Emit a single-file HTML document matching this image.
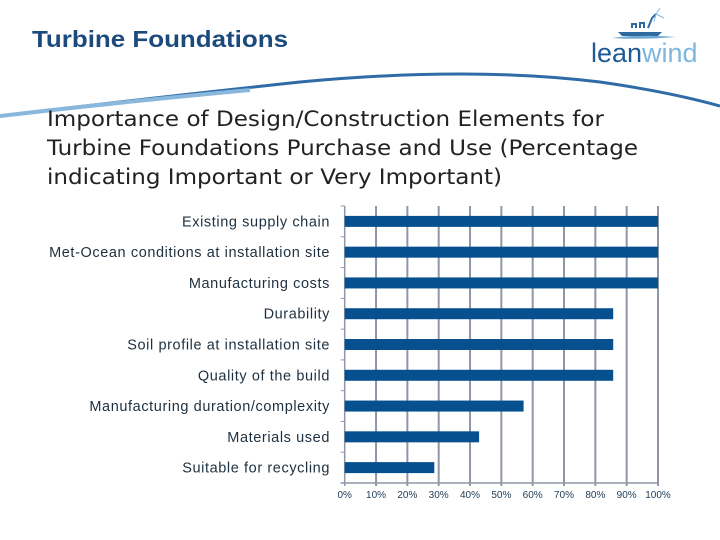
<!DOCTYPE html>
<html><head><meta charset="utf-8"><style>
html,body{margin:0;padding:0;background:#fff;width:720px;height:540px;overflow:hidden}
svg{display:block}
</style></head><body>
<svg width="720" height="540" xmlns="http://www.w3.org/2000/svg">
<text x="32" y="47" font-family="Liberation Sans, sans-serif" font-weight="bold" font-size="23" textLength="256" lengthAdjust="spacingAndGlyphs" fill="#1c4a7c">Turbine Foundations</text>
<g>
  <path d="M618 32 L662 32 L658 36 L622 36 Z" fill="#2e6aa0"/>
  <path d="M612 38 Q640 34 676 37 Q640 40 612 38Z" fill="#6fa9d4"/>
  <path d="M632 28 L632 24 L636 24 L636 28 M640 28 L640 23 L644 23 L644 28 M648 28 L652 18 L656 14" stroke="#2e6aa0" stroke-width="2" fill="none"/>
  <path d="M656 14 L660 8 M656 14 L664 18 M656 14 L654 22" stroke="#8ab8dc" stroke-width="1" fill="none"/>
  <text x="591" y="62" font-family="Liberation Sans, sans-serif" font-size="27" fill="#1e5a96">lean<tspan fill="#7fb6df">wind</tspan></text>
</g>
<path d="M0 116 Q150 98 300 82 Q470 66 600 82 Q670 92 720 106" stroke="#2f6ba6" stroke-width="3" fill="none"/>
<path d="M0 116 Q120 102 250 90" stroke="#8ab8dc" stroke-width="4" fill="none"/>
<g font-family="DejaVu Sans, sans-serif" font-size="21" fill="#222">
<text x="47" y="126" textLength="557" lengthAdjust="spacingAndGlyphs">Importance of Design/Construction Elements for</text>
<text x="47" y="155" textLength="591" lengthAdjust="spacingAndGlyphs">Turbine Foundations Purchase and Use (Percentage</text>
<text x="47" y="184" textLength="455" lengthAdjust="spacingAndGlyphs">indicating Important or Very Important)</text>
</g>
<g id="chart"></g>
</svg>
<script>
const categories=["Existing supply chain","Met-Ocean conditions at installation site","Manufacturing costs","Durability","Soil profile at installation site","Quality of the build","Manufacturing duration/complexity","Materials used","Suitable for recycling"];
const values=[100,100,100,85.7,85.7,85.7,57.1,42.9,28.6];
const tickLabels=["0%","10%","20%","30%","40%","50%","60%","70%","80%","90%","100%"];
const tickValues=[0,10,20,30,40,50,60,70,80,90,100];
const NS="http://www.w3.org/2000/svg";
const g=document.getElementById('chart');
const x0=344.7,x1=658,yTop=206,yBot=483;
const band=(yBot-yTop)/categories.length;
const xs=v=>x0+(x1-x0)*v/100;
const yc=i=>yTop+band*(i+0.5);
function mk(t,a){const e=document.createElementNS(NS,t);for(const k in a)e.setAttribute(k,a[k]);g.appendChild(e);return e;}
tickValues.forEach((v,i)=>{
  const l=mk('line',{x1:xs(v),x2:xs(v),y1:yTop,y2:yBot+3,stroke:'#8f97a6','stroke-width':i===0?1.5:2});
  
  
  const t=mk('text',{x:xs(v),y:yBot+15,'text-anchor':'middle','font-family':'Liberation Sans, sans-serif','font-size':'10',fill:'#1e3a55'});
  t.textContent=tickLabels[i];
  
  
});
for(let i=0;i<=categories.length;i++){
  const t=mk('line',{x1:x0-4,x2:x0,y1:yTop+band*i,y2:yTop+band*i,stroke:'#8f97a6','stroke-width':1});
  
  
}
const ax=mk('line',{x1:x0-4,x2:x1,y1:yBot,y2:yBot,stroke:'#8f97a6','stroke-width':1.5});


categories.forEach((c,i)=>{
  const r=mk('rect',{x:x0,y:yc(i)-5.5,width:xs(values[i])-x0,height:11,fill:'#06508f'});
  
  
  const t=mk('text',{x:330,y:yc(i)+5,'text-anchor':'end','font-family':'Liberation Sans, sans-serif','font-size':'14.5',fill:'#1e3040','letter-spacing':'0.6'});
  t.textContent=c;
  
  
});
</script>
</body></html>
